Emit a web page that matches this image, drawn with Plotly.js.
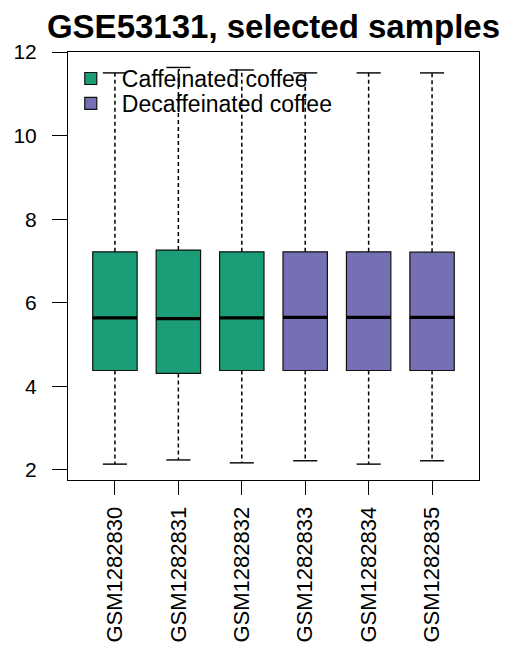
<!DOCTYPE html>
<html>
<head>
<meta charset="utf-8">
<script src="https://cdn.plot.ly/plotly-3.0.1.min.js"></script>
<style>html,body{margin:0;padding:0;background:#fff;}#chart{width:506px;height:652px;}</style>
</head>
<body>
<div id="chart"></div>
<script>
// ---- data ----
var samples = ['GSM1282830','GSM1282831','GSM1282832','GSM1282833','GSM1282834','GSM1282835'];
var groupNames = ['Caffeinated coffee','Decaffeinated coffee'];
var groupOf = [0,0,0,1,1,1];
var q1Vals     = [4.38, 4.31, 4.38, 4.38, 4.38, 4.38];
var medianVals = [5.64, 5.62, 5.64, 5.65, 5.65, 5.65];
var q3Vals     = [7.22, 7.26, 7.22, 7.22, 7.22, 7.21];
var lowerVals  = [2.14, 2.24, 2.17, 2.22, 2.14, 2.22];
var upperVals  = [11.50, 11.63, 11.57, 11.50, 11.50, 11.50];
var yTicks = [2, 4, 6, 8, 10, 12];

// ---- styles ----
var colors = ['#1b9e77', '#7570b3'];
var legendIds = ['legend', 'legend2'];
var boxW = 0.7, capHalf = 0.19;
var pos = samples.map(function(s, i){ return i + 1; });

var traces = [];
var wx = [], wy = [], cx = [], cy = [], mx = [], my = [];
pos.forEach(function(p, i){
  wx.push(p, p, null, p, p, null);
  wy.push(q3Vals[i], upperVals[i], null, q1Vals[i], lowerVals[i], null);
  cx.push(p - capHalf, p + capHalf, null, p - capHalf, p + capHalf, null);
  cy.push(upperVals[i], upperVals[i], null, lowerVals[i], lowerVals[i], null);
  mx.push(p - boxW/2, p + boxW/2, null);
  my.push(medianVals[i], medianVals[i], null);
});
traces.push({type:'scatter', mode:'lines', x:wx, y:wy, showlegend:false, hoverinfo:'skip',
  line:{color:'#000', width:1.5, dash:'4px,3px'}});
traces.push({type:'scatter', mode:'lines', x:cx, y:cy, showlegend:false, hoverinfo:'skip',
  line:{color:'#000', width:1.4}});
groupNames.forEach(function(g, gi){
  var idx = [];
  groupOf.forEach(function(v, i){ if (v === gi) idx.push(i); });
  traces.push({
    type:'box', name:g, legend: legendIds[gi],
    x: idx.map(function(i){ return pos[i]; }),
    q1: idx.map(function(i){ return q1Vals[i]; }),
    median: idx.map(function(i){ return medianVals[i]; }),
    q3: idx.map(function(i){ return q3Vals[i]; }),
    lowerfence: idx.map(function(i){ return q1Vals[i]; }),
    upperfence: idx.map(function(i){ return q3Vals[i]; }),
    width: boxW,
    fillcolor: colors[gi],
    line:{color:'#111', width:1.2},
    hoverinfo:'skip'
  });
});
traces.push({type:'scatter', mode:'lines', x:mx, y:my, showlegend:false, hoverinfo:'skip',
  line:{color:'#000', width:3.2}});

function legendBox(y){
  return {x:-0.02, xanchor:'left', y:y, yanchor:'middle', bgcolor:'rgba(0,0,0,0)',
    font:{size:23}, itemwidth:52, itemclick:false, borderwidth:0};
}

var layout = {
  width:506, height:652,
  margin:{l:68, r:27, t:52, b:172},
  paper_bgcolor:'#fff', plot_bgcolor:'#fff',
  font:{family:'Liberation Sans, Arial, sans-serif', color:'#000'},
  boxmode:'overlay',
  title:{text:'<b>GSE53131, selected samples</b>', font:{size:33, color:'#000'},
    x:0.5, xref:'paper', xanchor:'center', y:0.96, yref:'container', yanchor:'middle'},
  xaxis:{range:[0.26, 6.74], tickmode:'array', tickvals:pos, ticktext:samples, tickangle:-90,
    ticks:'outside', ticklen:14, tickwidth:1, tickcolor:'#000', ticklabelstandoff:3,
    showline:true, mirror:true, linecolor:'#000', linewidth:1,
    showgrid:false, zeroline:false, tickfont:{size:22}, fixedrange:true},
  yaxis:{range:[1.76, 12.0], tickmode:'array', tickvals:yTicks,
    ticks:'outside', ticklen:15, tickwidth:1, tickcolor:'#000', ticklabelstandoff:11,
    showline:true, mirror:true, linecolor:'#000', linewidth:1,
    showgrid:false, zeroline:false, tickfont:{size:21}, fixedrange:true},
  legend: legendBox(0.938),
  legend2: legendBox(0.880),
  showlegend:true
};
Plotly.newPlot('chart', traces, layout, {displayModeBar:false, staticPlot:true});
</script>
</body>
</html>
